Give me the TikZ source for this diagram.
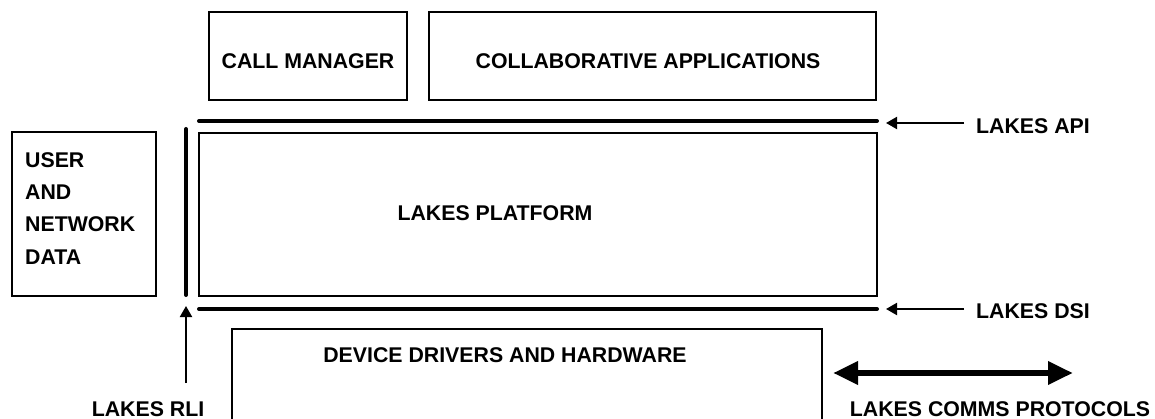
\documentclass[tikz,border=0pt]{standalone}
\usepackage{fontspec}
\setmainfont{Liberation Sans}
\usetikzlibrary{arrows.meta}
\begin{document}
\begin{tikzpicture}[x=1pt,y=-1pt,
  box/.style={draw, line width=1.5pt, minimum width=0pt, minimum height=0pt, inner sep=0pt},
  lbl/.style={font=\bfseries\fontsize{21.3}{25}\selectfont, inner sep=0pt},
  bar/.style={line width=4pt, line cap=round},
  ptr/.style={line width=2pt, -{Triangle[length=11pt,width=12pt]}},
  both/.style={line width=6.5pt, {Triangle[length=25pt,width=22pt]}-{Triangle[length=25pt,width=22pt]}}]
  \useasboundingbox (0,0) rectangle (1155,419);

  % boxes
  \path[box] (209,12) rectangle (407,100) node[pos=0.5] (cm) {};
  \path[box] (429,12) rectangle (876,100) node[pos=0.5] (ca) {};
  \path[box] (199,133) rectangle (877,296) node[pos=0.5] (lp) {};
  \path[box] (12,132) rectangle (156,296) node[pos=0.5] (ud) {};
  \path[box] (232,329) rectangle (822,430) node[pos=0.5] (dd) {};

  % box labels
  \node[lbl] (cmt) at (308,61) {CALL MANAGER};
  \node[lbl] (cat) at (648,61) {COLLABORATIVE APPLICATIONS};
  \node[lbl] (lpt) at (495,213) {LAKES PLATFORM};
  \node[lbl] (ddt) at (505,355) {DEVICE DRIVERS AND HARDWARE};
  \node[lbl, anchor=west] (u1) at (25,160) {USER};
  \node[lbl, anchor=west] (u2) at (25,192) {AND};
  \node[lbl, anchor=west] (u3) at (25,224) {NETWORK};
  \node[lbl, anchor=west] (u4) at (25,257) {DATA};

  % interface bars
  \coordinate (apiL) at (199,121);
  \coordinate (apiR) at (877,121);
  \coordinate (dsiL) at (199,309);
  \coordinate (dsiR) at (877,309);
  \coordinate (rliT) at (186,129);
  \coordinate (rliB) at (186,295);
  \draw[bar] (apiL) -- (apiR);
  \draw[bar] (dsiL) -- (dsiR);
  \draw[bar] (rliT) -- (rliB);

  % interface labels and pointers
  \node[lbl, anchor=west] (api) at (976,126) {LAKES API};
  \node[lbl, anchor=west] (dsi) at (976,311) {LAKES DSI};
  \node[lbl] (rli) at (148,409) {LAKES RLI};
  \node[lbl] (cp) at (1000,409) {LAKES COMMS PROTOCOLS};

  \coordinate (apiS) at (964,123);
  \coordinate (apiE) at (886,123);
  \coordinate (dsiS) at (964,309);
  \coordinate (dsiE) at (886,309);
  \coordinate (rliS) at (186,383);
  \coordinate (rliE) at (186,306);
  \coordinate (cpL) at (833,373);
  \coordinate (cpR) at (1073,373);
  \draw[ptr] (apiS) -- (apiE);
  \draw[ptr] (dsiS) -- (dsiE);
  \draw[ptr] (rliS) -- (rliE);
  \draw[both] (cpL) -- (cpR);
\end{tikzpicture}
\end{document}
